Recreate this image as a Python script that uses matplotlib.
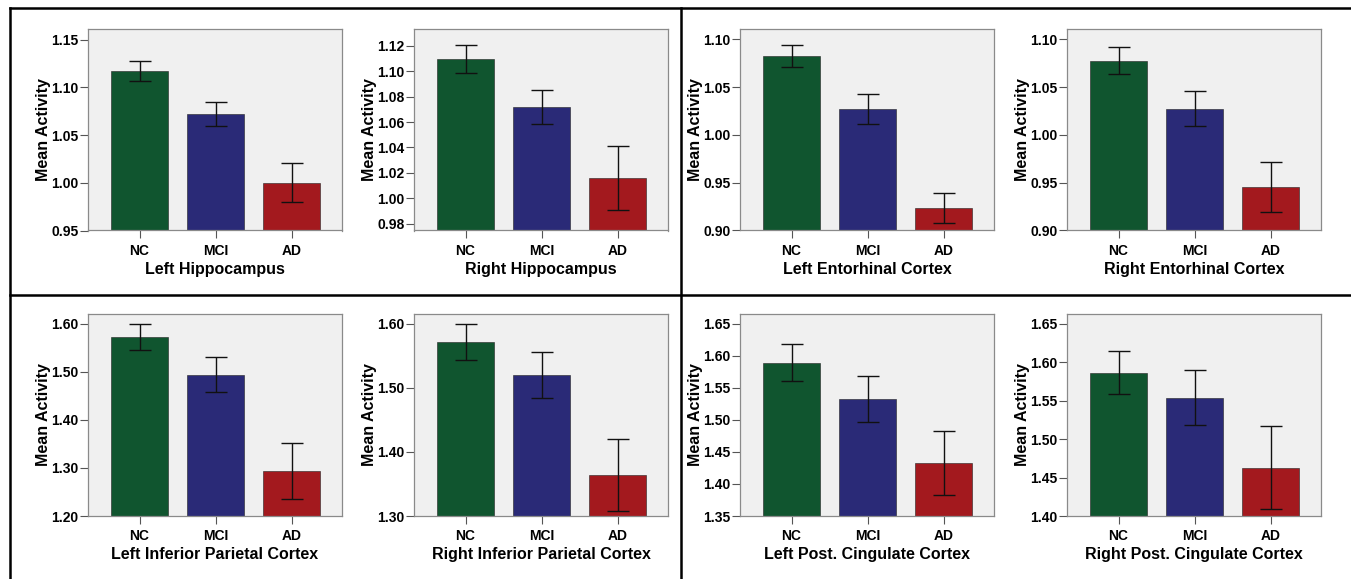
import matplotlib
matplotlib.use("Agg")
import matplotlib.pyplot as plt
from matplotlib.lines import Line2D
import numpy as np

plt.rcParams['font.family'] = ['Liberation Sans', 'DejaVu Sans']

groups = ["NC", "MCI", "AD"]
regions = ["Left Hippocampus", "Right Hippocampus",
           "Left Entorhinal Cortex", "Right Entorhinal Cortex",
           "Left Inferior Parietal Cortex", "Right Inferior Parietal Cortex",
           "Left Post. Cingulate Cortex", "Right Post. Cingulate Cortex"]

left_hippo = [1.1175, 1.072, 1.000]
left_hippo_err = [0.0105, 0.013, 0.0205]
right_hippo = [1.110, 1.072, 1.0157]
right_hippo_err = [0.011, 0.0132, 0.0253]
left_ento = [1.0823, 1.0269, 0.9236]
left_ento_err = [0.0113, 0.0155, 0.0153]
right_ento = [1.0777, 1.0276, 0.9452]
right_ento_err = [0.0138, 0.0183, 0.0263]
left_ipc = [1.5729, 1.4944, 1.2937]
left_ipc_err = [0.0271, 0.0369, 0.058]
right_ipc = [1.5719, 1.5198, 1.3641]
right_ipc_err = [0.0284, 0.0359, 0.0562]
left_pcc = [1.5896, 1.5323, 1.4322]
left_pcc_err = [0.029, 0.036, 0.050]
right_pcc = [1.5866, 1.5541, 1.4629]
right_pcc_err = [0.0276, 0.0356, 0.054]

means = [left_hippo, right_hippo, left_ento, right_ento,
         left_ipc, right_ipc, left_pcc, right_pcc]
errs = [left_hippo_err, right_hippo_err, left_ento_err, right_ento_err,
        left_ipc_err, right_ipc_err, left_pcc_err, right_pcc_err]

ylims = [(0.95, 1.161), (0.9745, 1.1334), (0.90, 1.1108), (0.90, 1.1108),
         (1.20, 1.6208), (1.30, 1.6156), (1.35, 1.6656), (1.40, 1.663)]
yticks = [np.arange(0.95, 1.151, 0.05), np.arange(0.98, 1.121, 0.02),
          np.arange(0.90, 1.101, 0.05), np.arange(0.90, 1.101, 0.05),
          np.arange(1.20, 1.601, 0.10), np.arange(1.30, 1.601, 0.10),
          np.arange(1.35, 1.651, 0.05), np.arange(1.40, 1.651, 0.05)]

colors = ["#10552F", "#2A2A77", "#A3191E"]

W, H = 1351, 579
fig = plt.figure(figsize=(W / 100, H / 100), dpi=100)

xs_px = [88, 414, 740, 1067]
row_px = [(29, 230.5), (314, 516)]
ax_w = 254

for i in range(8):
    r, c = divmod(i, 4)
    top, bot = row_px[r]
    ax = fig.add_axes([xs_px[c] / W, 1 - bot / H, ax_w / W, (bot - top) / H])
    ax.set_facecolor("#F0F0F0")
    x = np.arange(len(groups))
    ax.bar(x, means[i], width=0.75, color=colors, edgecolor="#222222",
           linewidth=0.4, bottom=0, zorder=2)
    ax.errorbar(x, means[i], yerr=errs[i], fmt="none", ecolor="#111111",
                elinewidth=1.0, capsize=7.8, capthick=1.0, zorder=3)
    ax.set_xlim(-0.678, 2.664)
    ax.set_ylim(*ylims[i])
    ax.set_yticks(yticks[i])
    ax.set_yticklabels([f"{v:.2f}" for v in yticks[i]], fontsize=10,
                       fontweight="bold")
    ax.set_xticks(x)
    ax.set_xticklabels(groups, fontsize=10, fontweight="bold")
    ax.tick_params(axis="both", length=5.5, width=0.8, color="#555555",
                   pad=1.5)
    ax.tick_params(axis="x", pad=4)
    for s in ax.spines.values():
        s.set_color("#8A8A8A")
        s.set_linewidth(0.9)
    ax.set_ylabel("Mean Activity", fontsize=11.5, fontweight="bold",
                  labelpad=0)
    ax.set_xlabel(regions[i], fontsize=11.5, fontweight="bold", labelpad=3)

# panel frame lines
lw = 1.8
def hline(y, x0, x1):
    fig.add_artist(Line2D([x0 / W, x1 / W], [1 - y / H, 1 - y / H],
                          transform=fig.transFigure, color="black", lw=lw))
def vline(x, y0, y1):
    fig.add_artist(Line2D([x / W, x / W], [1 - y0 / H, 1 - y1 / H],
                          transform=fig.transFigure, color="black", lw=lw))

hline(8, 10, W)
hline(295, 10, W)
vline(10, 8, H)
vline(681, 8, H)

fig.savefig("out.png", dpi=100, facecolor="white")
